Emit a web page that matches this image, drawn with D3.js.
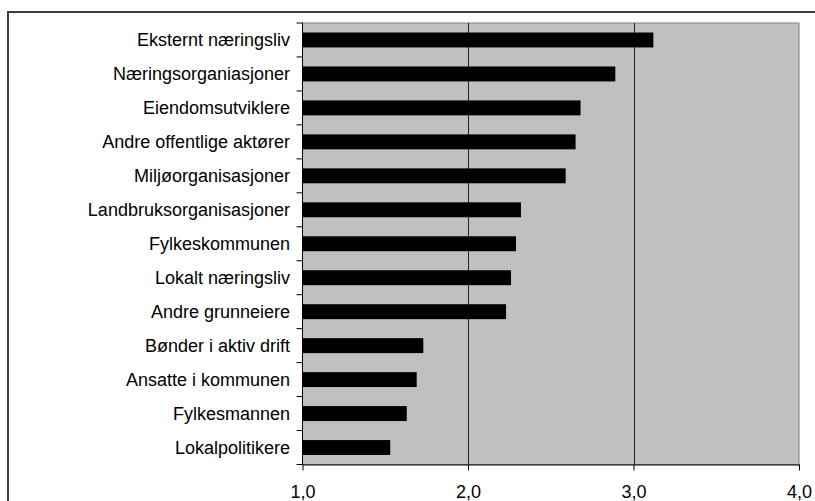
<!DOCTYPE html>
<html>
<head>
<meta charset="utf-8">
<script src="https://cdn.jsdelivr.net/npm/d3@7"></script>
<style>
  html, body { margin: 0; padding: 0; background: #fff; }
  svg { display: block; font-family: "Liberation Sans", Arial, sans-serif; }
</style>
</head>
<body>
<div id="chart"></div>
<script>
(function () {
    // data (top to bottom)
    const categories = [
        "Eksternt næringsliv",
        "Næringsorganiasjoner",
        "Eiendomsutviklere",
        "Andre offentlige aktører",
        "Miljøorganisasjoner",
        "Landbruksorganisasjoner",
        "Fylkeskommunen",
        "Lokalt næringsliv",
        "Andre grunneiere",
        "Bønder i aktiv drift",
        "Ansatte i kommunen",
        "Fylkesmannen",
        "Lokalpolitikere"
    ];
    const values = [3.12, 2.89, 2.68, 2.65, 2.59, 2.32, 2.29, 2.26, 2.23, 1.73, 1.69, 1.63, 1.53];
    const xTicks = [1, 2, 3, 4];

    const W = 815, H = 501;
    const plot = { left: 302.5, right: 799, top: 23, bottom: 464.5 };

    const svg = d3.select("#chart")
        .append("svg")
        .attr("width", W)
        .attr("height", H);

    // outer chart border (runs off the right and bottom edges)
    svg.append("rect")
        .attr("x", 8)
        .attr("y", 12)
        .attr("width", W + 10)
        .attr("height", H + 10)
        .attr("fill", "#fff")
        .attr("stroke", "#3c3c3c")
        .attr("stroke-width", 2);

    const x = d3.scaleLinear()
        .domain([1, 4])
        .range([plot.left, plot.right]);

    const y = d3.scaleBand()
        .domain(categories)
        .range([plot.top, plot.bottom])
        .paddingInner(0.56)
        .paddingOuter(0.28);

    // plot background
    svg.append("rect")
        .attr("x", plot.left)
        .attr("y", plot.top)
        .attr("width", plot.right - plot.left)
        .attr("height", plot.bottom - plot.top)
        .attr("fill", "#c0c0c0")
        .attr("stroke", "#808080")
        .attr("stroke-width", 1);

    // vertical gridlines
    svg.append("g")
        .selectAll("line")
        .data(xTicks.slice(1, -1))
        .join("line")
        .attr("x1", d => Math.round(x(d)) + 0.5)
        .attr("x2", d => Math.round(x(d)) + 0.5)
        .attr("y1", plot.top)
        .attr("y2", plot.bottom)
        .attr("stroke", "#222")
        .attr("stroke-width", 1);

    // bars
    svg.append("g")
        .selectAll("rect")
        .data(categories)
        .join("rect")
        .attr("x", x(1))
        .attr("y", d => y(d))
        .attr("width", (d, i) => x(values[i]) - x(1))
        .attr("height", y.bandwidth())
        .attr("fill", "#000");

    // y axis: line + ticks at band boundaries
    const step = y.step();
    const bounds = d3.range(categories.length + 1).map(i => plot.top + i * step);
    const yAxis = svg.append("g");
    yAxis.append("line")
        .attr("x1", plot.left).attr("x2", plot.left)
        .attr("y1", plot.top).attr("y2", plot.bottom)
        .attr("stroke", "#000");
    yAxis.selectAll(".tick")
        .data(bounds)
        .join("line")
        .attr("class", "tick")
        .attr("x1", plot.left - 6).attr("x2", plot.left)
        .attr("y1", d => d).attr("y2", d => d)
        .attr("stroke", "#000");
    yAxis.selectAll("text")
        .data(categories)
        .join("text")
        .attr("x", 290)
        .attr("y", d => y(d) + y.bandwidth() / 2)
        .attr("dy", "0.35em")
        .attr("text-anchor", "end")
        .attr("font-size", "18px")
        .attr("fill", "#000")
        .text(d => d);

    // x axis
    const xAxis = d3.axisBottom(x)
        .tickValues(xTicks)
        .tickSize(6)
        .tickSizeOuter(0)
        .tickPadding(15)
        .tickFormat(d => d3.format(".1f")(d).replace(".", ","));

    svg.append("g")
        .attr("transform", `translate(0,${plot.bottom})`)
        .call(xAxis)
        .call(g => g.selectAll("text").attr("font-size", "18px").attr("fill", "#000").attr("font-family", "'Liberation Sans', Arial, sans-serif"))
        .call(g => g.selectAll("line, path").attr("stroke", "#000"));
})();
</script>
</body>
</html>
